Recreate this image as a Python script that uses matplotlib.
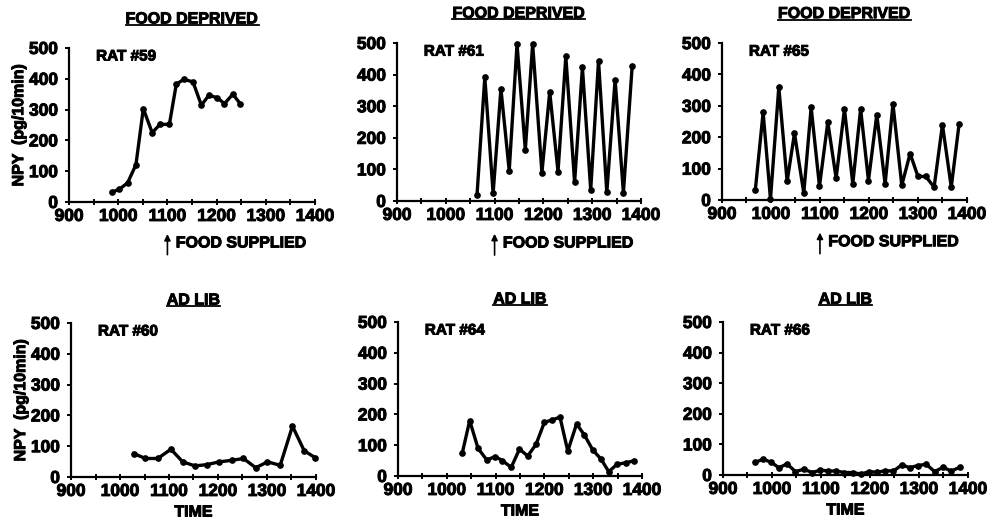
import matplotlib.pyplot as plt
import matplotlib.patheffects as pe
from matplotlib.lines import Line2D

plt.rcParams['font.family'] = ['Liberation Sans', 'DejaVu Sans']
plt.rcParams['font.weight'] = 'bold'

# NPY release, sampled over the day (time in clock minutes-ish units, NPY in pg/10min)
rat59_t = [987, 1002, 1019, 1036, 1051, 1069, 1085, 1104, 1118, 1133, 1152, 1169, 1184, 1201, 1216, 1233, 1248]
rat59_y = [32, 41, 62, 121, 303, 225, 252, 252, 382, 398, 390, 314, 346, 339, 319, 350, 319]

rat61_t = [1064, 1080, 1097, 1113, 1130, 1146, 1163, 1178, 1197, 1213, 1230, 1246, 1264, 1280, 1297, 1313, 1330, 1347, 1364, 1382]
rat61_y = [19, 392, 24, 355, 96, 497, 162, 497, 90, 345, 93, 458, 59, 423, 35, 444, 27, 384, 26, 428]

rat65_t = [968, 984, 999, 1016, 1033, 1048, 1067, 1082, 1099, 1116, 1133, 1150, 1167, 1183, 1199, 1216, 1233,
           1249, 1267, 1284, 1300, 1316, 1333, 1350, 1368, 1384]
rat65_y = [31, 279, 3, 360, 59, 213, 22, 295, 44, 248, 69, 290, 52, 290, 62, 272, 51,
           306, 47, 148, 75, 75, 41, 240, 41, 243]

rat60_t = [1028, 1052, 1077, 1104, 1128, 1153, 1177, 1202, 1228, 1252, 1277, 1301, 1327, 1352, 1376, 1398]
rat60_y = [76, 60, 60, 90, 49, 36, 40, 49, 54, 60, 30, 49, 38, 165, 85, 63]

rat64_t = [1032, 1047, 1064, 1082, 1099, 1114, 1132, 1149, 1166, 1183, 1200, 1216, 1232, 1248, 1266, 1282,
           1299, 1316, 1332, 1349, 1367, 1383]
rat64_y = [76, 180, 90, 52, 63, 50, 28, 87, 65, 103, 174, 182, 191, 81, 169, 133,
           85, 55, 14, 38, 43, 49]

rat66_t = [966, 982, 999, 1014, 1031, 1048, 1065, 1082, 1099, 1115, 1131, 1148, 1165, 1182, 1198, 1215,
           1231, 1248, 1265, 1281, 1298, 1315, 1332, 1349, 1366, 1383]
rat66_y = [41, 52, 41, 24, 36, 11, 19, 8, 16, 13, 13, 8, 8, 3, 11, 9,
           14, 13, 33, 24, 31, 35, 11, 25, 13, 25]

panels = [
    ('FOOD DEPRIVED', 'RAT #59', rat59_t, rat59_y, [0.0698, 0.6138, 0.2487, 0.2945]),
    ('FOOD DEPRIVED', 'RAT #61', rat61_t, rat61_y, [0.4014, 0.6157, 0.2467, 0.3020]),
    ('FOOD DEPRIVED', 'RAT #65', rat65_t, rat65_y, [0.7300, 0.6176, 0.2477, 0.3000]),
    ('AD LIB', 'RAT #60', rat60_t, rat60_y, [0.0718, 0.0880, 0.2477, 0.2945]),
    ('AD LIB', 'RAT #64', rat64_t, rat64_y, [0.4024, 0.0899, 0.2467, 0.2945]),
    ('AD LIB', 'RAT #66', rat66_t, rat66_y, [0.7310, 0.0918, 0.2477, 0.2925]),
]

# a thin stroke to make the bold type look heavier
heavy = [pe.withStroke(linewidth=0.7, foreground='black')]

fig = plt.figure(figsize=(9.89, 5.23), dpi=100)
titles = []

for i, (title, rat, t, y, pos) in enumerate(panels):
    ax = fig.add_axes(pos)
    ax.plot(t, y, color='black', lw=2.4, marker='o', ms=3.8, clip_on=False)
    ax.set_xlim(900, 1400)
    ax.set_ylim(0, 500)
    ax.spines['top'].set_visible(False)
    ax.spines['right'].set_visible(False)
    ax.spines['left'].set_linewidth(1.6)
    ax.spines['bottom'].set_linewidth(1.6)
    ax.set_xticks(range(900, 1401, 100))
    ax.set_xticks(range(950, 1400, 100), minor=True)
    ax.set_yticks(range(0, 501, 100))
    ax.tick_params(axis='y', labelsize=12.5, width=1.4, length=3, pad=5)
    ax.tick_params(axis='x', labelsize=12.5, width=1.4, direction='inout', length=4, pad=3)
    ax.tick_params(axis='x', which='minor', direction='inout', length=4, width=1.4)
    for lab in ax.get_xticklabels() + ax.get_yticklabels():
        lab.set_path_effects(heavy)
    ax.text(0.11, 0.99, rat, transform=ax.transAxes, fontsize=11, fontweight='bold',
            va='top', ha='left', path_effects=heavy)
    if i % 3 == 0:
        ax.set_ylabel('NPY  (pg/10min)', fontsize=11.5, fontweight='bold', labelpad=2,
                      path_effects=heavy)
    if i < 3:
        ax.annotate('', xy=(1100, -95), xytext=(1100, -180),
                    xycoords='data', textcoords='data',
                    arrowprops=dict(arrowstyle='-|>', color='black', lw=1.2, mutation_scale=9),
                    annotation_clip=False)
        ax.text(1117, -133, 'FOOD SUPPLIED', fontsize=11.5, fontweight='bold',
                ha='left', va='center', clip_on=False, path_effects=heavy)
    else:
        ax.set_xlabel('TIME', fontsize=11.5, fontweight='bold', labelpad=4,
                      path_effects=heavy)
    tt = ax.text(0.5, 1.14 if i < 3 else 1.10, title, transform=ax.transAxes,
                 fontsize=11.5, fontweight='bold', ha='center', va='bottom',
                 path_effects=heavy)
    titles.append(tt)

# underline the panel headings
fig.canvas.draw()
renderer = fig.canvas.get_renderer()
inv = fig.transFigure.inverted()
for tt in titles:
    bb = tt.get_window_extent(renderer)
    (x0, y0), (x1, _) = inv.transform([[bb.x0, bb.y0], [bb.x1, bb.y1]])
    fig.add_artist(Line2D([x0, x1], [y0 + 0.003, y0 + 0.003], color='black', lw=1.3,
                          transform=fig.transFigure))

fig.savefig('out.png', dpi=100)
